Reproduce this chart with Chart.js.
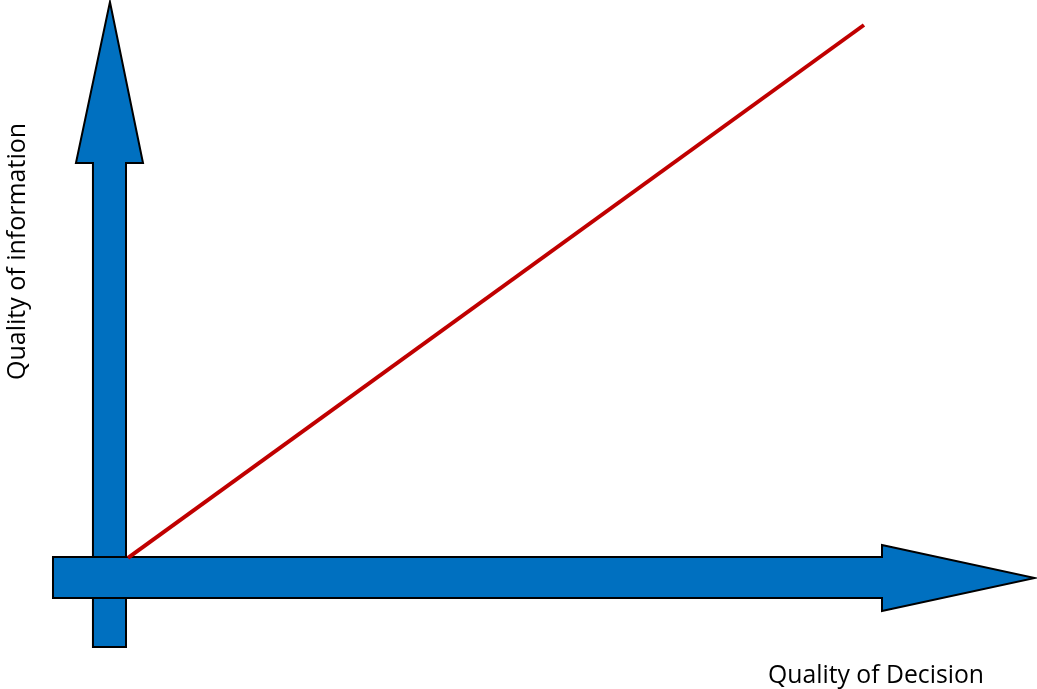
<!DOCTYPE html>
<html>
<head>
<meta charset="utf-8">
<script src="https://cdn.jsdelivr.net/npm/chart.js@4.4.1/dist/chart.umd.min.js"></script>
<style>
  html, body { margin: 0; padding: 0; background: #ffffff; overflow: hidden; }
  #wrap { position: relative; width: 1037px; height: 689px; }
</style>
</head>
<body>
<div id="wrap"><canvas id="c" width="1037" height="689"></canvas></div>
<script>
// Axis titles
const xAxisTitle = "Quality of Decision";
const yAxisTitle = "Quality of information";

// Trend line: quality of information vs quality of decision (data units)
const trendX = [0, 100];
const trendY = [0, 100];

// Axis arrow outlines (data units)
const yArrowX = [-4.76, -4.76, -7.07, -2.45, 2.04, -0.27, -0.27];
const yArrowY = [-16.70, 74.11, 74.11, 104.32, 74.11, 74.11, -16.70];
const xArrowX = [-10.19, 102.45, 102.45, 123.23, 102.45, 102.45, -10.19];
const xArrowY = [0.19, 0.19, 2.44, -3.75, -9.94, -7.50, -7.50];

// Visible range of the plane
const xRange = [-17.39, 123.51];
const yRange = [-24.58, 104.69];

const toPts = (xs, ys) => xs.map((x, i) => ({ x: x, y: ys[i] }));

const polygonPlugin = {
  id: 'polygons',
  beforeDatasetsDraw(chart) {
    const ctx = chart.ctx;
    chart.data.datasets.forEach((ds, i) => {
      if (!ds.polygon) return;
      const meta = chart.getDatasetMeta(i);
      ctx.save();
      ctx.beginPath();
      meta.data.forEach((p, j) => { if (j === 0) ctx.moveTo(p.x, p.y); else ctx.lineTo(p.x, p.y); });
      ctx.closePath();
      ctx.fillStyle = ds.polyFill;
      ctx.fill();
      ctx.lineWidth = 2;
      ctx.lineJoin = 'miter';
      ctx.strokeStyle = '#000000';
      ctx.stroke();
      ctx.restore();
    });
  },
  afterDraw(chart) {
    const ctx = chart.ctx;
    ctx.save();
    ctx.fillStyle = '#000000';
    ctx.font = '25px "Open Sans", "Liberation Sans", sans-serif';
    ctx.textBaseline = 'alphabetic';
    ctx.textAlign = 'left';
    ctx.fillText(xAxisTitle, 768, 683, 216);
    ctx.translate(25, 380);
    ctx.rotate(-Math.PI / 2);
    ctx.fillText(yAxisTitle, 0, 0, 258);
    ctx.restore();
  }
};

new Chart(document.getElementById('c'), {
  type: 'scatter',
  data: {
    datasets: [
      { label: 'y-axis', polygon: true, polyFill: '#0070C0', data: toPts(yArrowX, yArrowY), showLine: false, pointRadius: 0 },
      { label: 'x-axis', polygon: true, polyFill: '#0070C0', data: toPts(xArrowX, xArrowY), showLine: false, pointRadius: 0 },
      { label: 'trend', data: toPts(trendX, trendY), showLine: true, borderColor: '#C00000', borderWidth: 4, pointRadius: 0, fill: false, borderCapStyle: 'butt' }
    ]
  },
  options: {
    responsive: false,
    animation: false,
    layout: { padding: 0 },
    plugins: { legend: { display: false }, tooltip: { enabled: false }, title: { display: false } },
    scales: {
      x: { type: 'linear', display: false, min: xRange[0], max: xRange[1] },
      y: { type: 'linear', display: false, min: yRange[0], max: yRange[1] }
    }
  },
  plugins: [polygonPlugin]
});
</script>
</body>
</html>
